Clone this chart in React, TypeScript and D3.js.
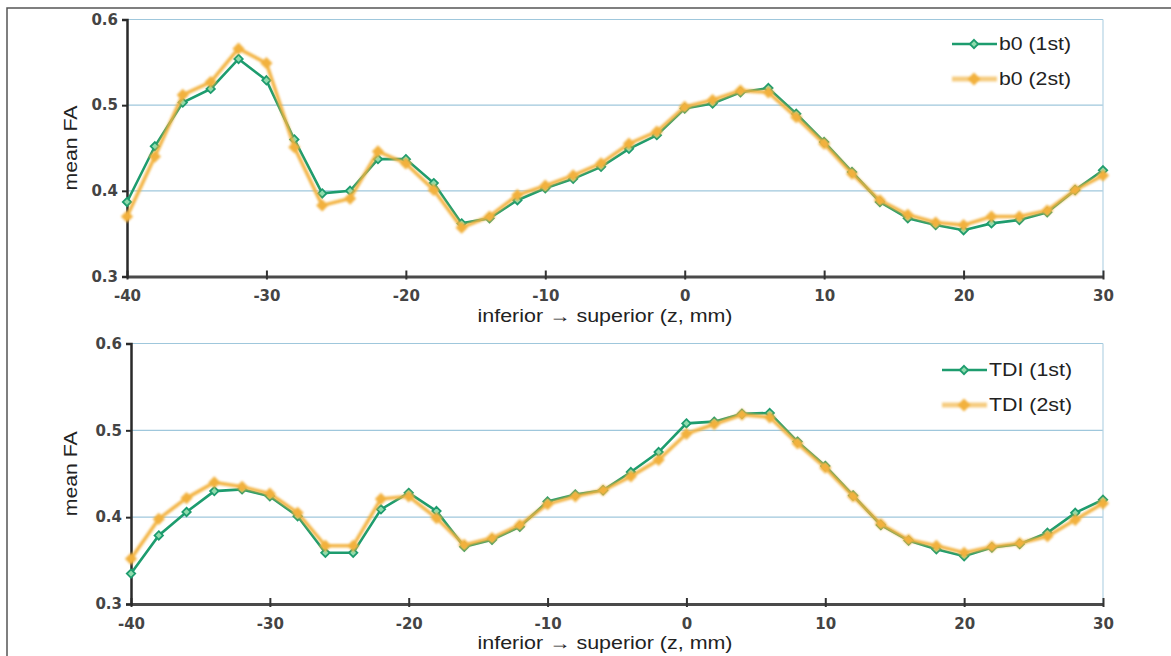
import React, { useEffect, useRef } from "react";
import * as d3 from "d3";

// z positions (mm), one sample every 2 mm
const depths = [-40, -38, -36, -34, -32, -30, -28, -26, -24, -22, -20, -18, -16, -14, -12, -10, -8, -6, -4, -2, 0, 2, 4, 6, 8, 10, 12, 14, 16, 18, 20, 22, 24, 26, 28, 30];

const b0First = [0.387, 0.452, 0.503, 0.519, 0.554, 0.529, 0.46, 0.397, 0.4, 0.437, 0.437, 0.409, 0.362, 0.368, 0.389, 0.403, 0.414, 0.428, 0.449, 0.465, 0.496, 0.502, 0.515, 0.52, 0.49, 0.457, 0.422, 0.387, 0.368, 0.36, 0.354, 0.362, 0.366, 0.375, 0.401, 0.424];
const b0Second = [0.37, 0.44, 0.512, 0.527, 0.566, 0.549, 0.451, 0.383, 0.391, 0.446, 0.432, 0.401, 0.357, 0.37, 0.395, 0.406, 0.418, 0.432, 0.455, 0.469, 0.498, 0.506, 0.517, 0.515, 0.486, 0.455, 0.42, 0.389, 0.372, 0.363, 0.36, 0.37, 0.37, 0.377, 0.401, 0.418];
const tdiFirst = [0.335, 0.379, 0.406, 0.43, 0.432, 0.424, 0.401, 0.359, 0.359, 0.409, 0.428, 0.407, 0.366, 0.374, 0.389, 0.418, 0.426, 0.431, 0.452, 0.475, 0.508, 0.51, 0.519, 0.52, 0.487, 0.459, 0.425, 0.391, 0.373, 0.363, 0.355, 0.365, 0.369, 0.382, 0.405, 0.42];
const tdiSecond = [0.352, 0.398, 0.422, 0.44, 0.435, 0.427, 0.405, 0.367, 0.367, 0.421, 0.424, 0.399, 0.368, 0.376, 0.391, 0.415, 0.424, 0.431, 0.447, 0.466, 0.496, 0.507, 0.518, 0.515, 0.485, 0.457, 0.424, 0.392, 0.374, 0.367, 0.359, 0.366, 0.37, 0.378, 0.397, 0.416];

const xTicks = [-40, -30, -20, -10, 0, 10, 20, 30];
const yTicks = [0.3, 0.4, 0.5, 0.6];
const gridValues = [0.4, 0.5, 0.6];

const xTitle = "inferior \u2192 superior (z, mm)";
const yTitle = "mean FA";

const GREEN = "#1d9c6e";
const GREEN_FILL = "#8fdcae";
const ORANGE = "#f2b13c";

const panels = [
  { first: b0First, second: b0Second, labels: ["b0 (1st)", "b0 (2st)"], labelLen: 72, left: 127, right: 1103, top: 19.5, bottom: 276.5, legendX: 952, legendY: 44, xTitleY: 322 },
  { first: tdiFirst, second: tdiSecond, labels: ["TDI (1st)", "TDI (2st)"], labelLen: 83, left: 131, right: 1103, top: 343.5, bottom: 604, legendX: 942, legendY: 370, xTitleY: 649 },
];

const W = 1171;
const H = 656;

const App = () => {
  const svgRef = useRef<SVGSVGElement>(null);

  useEffect(() => {
    const svg = d3.select(svgRef.current);
    svg.selectAll("*").remove();

    const defs = svg.append("defs");
    defs.append("filter").attr("id", "soft")
      .attr("x", "-5%").attr("y", "-5%").attr("width", "110%").attr("height", "110%")
      .append("feGaussianBlur").attr("stdDeviation", 0.9);

    svg.append("rect").attr("width", W).attr("height", H).attr("fill", "#fff");

    // outer frame (right and bottom edges fall off the picture)
    svg.append("rect")
      .attr("x", 7).attr("y", 8).attr("width", W).attr("height", H)
      .attr("fill", "none").attr("stroke", "#555").attr("stroke-width", 1.5);

    const diamond = d3.symbol().type(d3.symbolDiamond2);

    panels.forEach(p => {
      const x = d3.scaleLinear().domain([-40, 30]).range([p.left, p.right]);
      const y = d3.scaleLinear().domain([0.3, 0.6]).range([p.bottom, p.top]);
      const g = svg.append("g");

      // grid
      g.selectAll(".grid")
        .data(gridValues)
        .enter()
        .append("line")
        .attr("x1", p.left).attr("x2", p.right)
        .attr("y1", d => y(d)).attr("y2", d => y(d))
        .attr("stroke", "#9fc7dc").attr("stroke-width", 1.2);
      g.append("line")
        .attr("x1", p.right).attr("x2", p.right)
        .attr("y1", p.top).attr("y2", p.bottom)
        .attr("stroke", "#b5d4e4").attr("stroke-width", 1.2);

      // x axis
      const xAxis = g.append("g")
        .attr("transform", `translate(0,${p.bottom})`)
        .call(d3.axisBottom(x).tickValues(xTicks).tickFormat(d => String(d)).tickSize(0).tickPadding(14));
      xAxis.select(".domain").attr("stroke", "#4a4a4a").attr("stroke-width", 3);
      xAxis.selectAll(".tick")
        .append("line")
        .attr("y1", -6).attr("y2", 3)
        .attr("stroke", "#333").attr("stroke-width", 2);
      xAxis.selectAll("text")
        .attr("fill", "#444")
        .style("font-family", "DejaVu Sans, Verdana, sans-serif")
        .style("font-weight", "bold")
        .style("font-size", "15px");

      // y axis
      const yAxis = g.append("g")
        .attr("transform", `translate(${p.left},0)`)
        .call(d3.axisLeft(y).tickValues(yTicks).tickFormat(d3.format(".1f")).tickSize(5).tickPadding(4));
      yAxis.select(".domain").attr("stroke", "#2a2a2a").attr("stroke-width", 2.5);
      yAxis.selectAll(".tick line").attr("stroke", "#2a2a2a").attr("stroke-width", 2);
      yAxis.selectAll("text")
        .attr("fill", "#444")
        .style("font-family", "DejaVu Sans, Verdana, sans-serif")
        .style("font-weight", "bold")
        .style("font-size", "15px");

      // series
      const line = d3.line<number>().x((d, i) => x(depths[i])).y(d => y(d));

      const gGreen = g.append("g");
      gGreen.append("path")
        .datum(p.first)
        .attr("d", line)
        .attr("fill", "none").attr("stroke", GREEN).attr("stroke-width", 2.6);
      gGreen.selectAll("path.m")
        .data(p.first)
        .enter()
        .append("path")
        .attr("class", "m")
        .attr("d", diamond.size(45)())
        .attr("transform", (d, i) => `translate(${x(depths[i])},${y(d)})`)
        .attr("fill", GREEN_FILL).attr("stroke", GREEN).attr("stroke-width", 1.8);

      const gOrange = g.append("g").attr("filter", "url(#soft)");
      gOrange.append("path")
        .datum(p.second)
        .attr("d", line)
        .attr("fill", "none").attr("stroke", ORANGE).attr("stroke-width", 3.6).attr("opacity", 0.95);
      gOrange.selectAll("path.m")
        .data(p.second)
        .enter()
        .append("path")
        .attr("class", "m")
        .attr("d", diamond.size(95)())
        .attr("transform", (d, i) => `translate(${x(depths[i])},${y(d)})`)
        .attr("fill", ORANGE);

      // legend
      const lg = g.append("g").attr("transform", `translate(${p.legendX},${p.legendY})`);
      lg.append("line").attr("x1", 0).attr("x2", 45).attr("stroke", GREEN).attr("stroke-width", 2.6);
      lg.append("path").attr("d", diamond.size(45)()).attr("transform", "translate(22,0)")
        .attr("fill", GREEN_FILL).attr("stroke", GREEN).attr("stroke-width", 1.8);
      const lo = lg.append("g").attr("transform", "translate(0,35)").attr("filter", "url(#soft)");
      lo.append("line").attr("x1", 0).attr("x2", 45).attr("stroke", ORANGE).attr("stroke-width", 5).attr("opacity", 0.65);
      lo.append("path").attr("d", diamond.size(110)()).attr("transform", "translate(22,0)").attr("fill", ORANGE);
      lg.selectAll("text.lab")
        .data(p.labels)
        .enter()
        .append("text")
        .attr("class", "lab")
        .attr("x", 47)
        .attr("y", (d, i) => i * 35)
        .attr("dy", "0.35em")
        .attr("fill", "#222")
        .attr("textLength", p.labelLen)
        .attr("lengthAdjust", "spacingAndGlyphs")
        .style("font-family", "Liberation Sans, Arial, sans-serif")
        .style("font-size", "18px")
        .text(d => d);

      // titles
      g.append("text")
        .attr("x", 605).attr("y", p.xTitleY)
        .attr("text-anchor", "middle")
        .attr("fill", "#222")
        .attr("textLength", 255)
        .attr("lengthAdjust", "spacingAndGlyphs")
        .style("font-family", "Liberation Sans, Arial, sans-serif")
        .style("font-size", "18px")
        .text(xTitle);
      g.append("text")
        .attr("transform", `translate(77,${(p.top + p.bottom) / 2}) rotate(-90)`)
        .attr("text-anchor", "middle")
        .attr("fill", "#222")
        .attr("textLength", 85)
        .attr("lengthAdjust", "spacingAndGlyphs")
        .style("font-family", "Liberation Sans, Arial, sans-serif")
        .style("font-size", "19px")
        .text(yTitle);
    });
  }, []);

  return (
    <svg ref={svgRef} width={W} height={H} style={{ position: "absolute", left: 0, top: 0 }}></svg>
  );
};

export default App;
